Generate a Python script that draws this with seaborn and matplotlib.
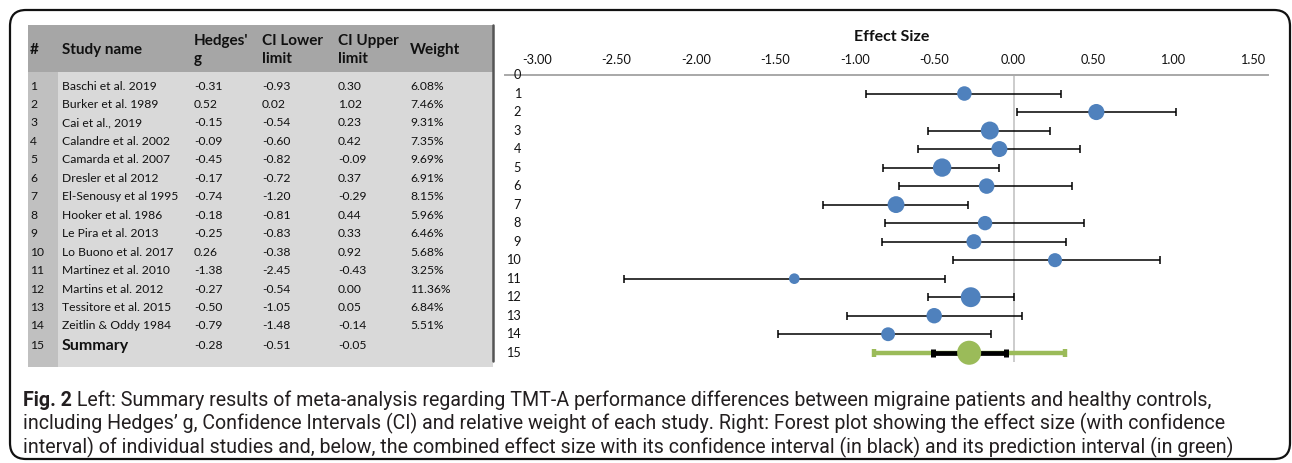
import matplotlib
matplotlib.use("Agg")
import matplotlib.pyplot as plt
import seaborn as sns
import pandas as pd
from matplotlib.patches import Rectangle, FancyBboxPatch
from matplotlib.transforms import blended_transform_factory
from matplotlib import font_manager

# ---- meta-analysis results -------------------------------------------------
study_ids = list(range(1, 15))
study_names = [
    "Baschi et al. 2019", "Burker et al. 1989", "Cai et al., 2019",
    "Calandre et al. 2002", "Camarda et al. 2007", "Dresler et al 2012",
    "El-Senousy et al 1995", "Hooker et al. 1986", "Le Pira et al. 2013",
    "Lo Buono et al. 2017", "Martinez et al. 2010", "Martins et al. 2012",
    "Tessitore et al. 2015", "Zeitlin & Oddy 1984",
]
hedges_g = [-0.31, 0.52, -0.15, -0.09, -0.45, -0.17, -0.74, -0.18, -0.25,
            0.26, -1.38, -0.27, -0.50, -0.79]
ci_lower = [-0.93, 0.02, -0.54, -0.60, -0.82, -0.72, -1.20, -0.81, -0.83,
            -0.38, -2.45, -0.54, -1.05, -1.48]
ci_upper = [0.30, 1.02, 0.23, 0.42, -0.09, 0.37, -0.29, 0.44, 0.33,
            0.92, -0.43, 0.00, 0.05, -0.14]
weights = [6.08, 7.46, 9.31, 7.35, 9.69, 6.91, 8.15, 5.96, 6.46,
           5.68, 3.25, 11.36, 6.84, 5.51]

summary_id = 15
summary_label = "Summary"
summary_g, summary_lower, summary_upper = -0.28, -0.51, -0.05
pred_lower, pred_upper = -0.88, 0.32

x_ticks = [-3.00, -2.50, -2.00, -1.50, -1.00, -0.50, 0.00, 0.50, 1.00, 1.50]
y_rows = list(range(0, 16))

header_labels = ["#", "Study name", "Hedges'\ng", "CI Lower\nlimit",
                 "CI Upper\nlimit", "Weight"]
axis_title = "Effect Size"
caption_bold = "Fig. 2"
caption_lines = [
    " Left: Summary results of meta-analysis regarding TMT-A performance "
    "differences between migraine patients and healthy controls,",
    "including Hedges\u2019 g, Confidence Intervals (CI) and relative weight "
    "of each study. Right: Forest plot showing the effect size (with confidence",
    "interval) of individual studies and, below, the combined effect size with "
    "its confidence interval (in black) and its prediction interval (in green)",
]

studies = pd.DataFrame({
    "row": study_ids, "g": hedges_g, "lo": ci_lower, "hi": ci_upper,
    "w": weights,
})

# ---- figure ----------------------------------------------------------------
W, H = 1292, 463
sns.set_theme(style="white")
plt.rcParams["font.family"] = ["Lato", "DejaVu Sans"]
fig = plt.figure(figsize=(W / 100, H / 100), dpi=100)
fig.patch.set_facecolor("white")

# pixel-space canvas for the table, frame and caption
cv = fig.add_axes([0, 0, 1, 1], zorder=0)
cv.set_xlim(0, W)
cv.set_ylim(H, 0)
cv.axis("off")

# rounded frame
cv.add_patch(FancyBboxPatch((10, 10), 1280, 449,
                            boxstyle="round,pad=0,rounding_size=16",
                            fill=False, edgecolor="#111111", lw=1.6))

# table background
tab_l, tab_r, tab_t, tab_hb, tab_b = 28, 493, 25, 72, 367
cv.add_patch(Rectangle((tab_l, tab_hb), tab_r - tab_l, tab_b - tab_hb,
                       facecolor="#d9d9d9", edgecolor="none"))
cv.add_patch(Rectangle((tab_l, tab_hb), 30, tab_b - tab_hb,
                       facecolor="#c0c0c0", edgecolor="none"))
cv.add_patch(Rectangle((tab_l, tab_t), tab_r - tab_l, tab_hb - tab_t,
                       facecolor="#a6a6a6", edgecolor="none"))
cv.plot([tab_r, tab_r], [tab_t, tab_b - 6], color="#555555", lw=1.8)

col_x = [30, 62, 194, 262, 338, 410]
for x, lab in zip(col_x, header_labels):
    cv.text(x, 50, lab, ha="left", va="center", fontsize=11,
            fontweight="bold", color="#111111", linespacing=1.4)

row_y0, row_dy = 86, 18.46
body_fs = 8.7
for i, r in enumerate(study_ids):
    y = row_y0 + row_dy * (r - 1)
    vals = [str(r), study_names[i], f"{hedges_g[i]:.2f}", f"{ci_lower[i]:.2f}",
            f"{ci_upper[i]:.2f}", f"{weights[i]:.2f}%"]
    for x, v in zip(col_x, vals):
        cv.text(x, y, v, ha="left", va="center", fontsize=body_fs,
                color="#111111")

ys = row_y0 + row_dy * (summary_id - 1) + 1.5
cv.text(col_x[0], ys, str(summary_id), ha="left", va="center",
        fontsize=body_fs, color="#111111")
cv.text(col_x[1], ys, summary_label, ha="left", va="center", fontsize=11.5,
        fontweight="bold", color="#111111")
for x, v in zip(col_x[2:5], [summary_g, summary_lower, summary_upper]):
    cv.text(x, ys, f"{v:.2f}", ha="left", va="center", fontsize=body_fs,
            color="#111111")

# ---- forest plot -----------------------------------------------------------
fp_l, fp_r, fp_t, fp_b = 505, 1268, 75, 362
ax = fig.add_axes([fp_l / W, 1 - fp_b / H, (fp_r - fp_l) / W, (fp_b - fp_t) / H],
                  zorder=2)
ax.set_facecolor("none")
ax.set_xlim(-3.2, 1.6)
ax.set_ylim(15.5, 0)

ax.axvline(0, color="#c4c4c4", lw=1.2, zorder=1)

ax.errorbar(studies["g"], studies["row"],
            xerr=[studies["g"] - studies["lo"], studies["hi"] - studies["g"]],
            fmt="none", ecolor="black", elinewidth=1.1, capsize=2.6,
            capthick=1.1, zorder=2)
sns.scatterplot(data=studies, x="g", y="row", size="w", sizes=(0, 205),
                size_norm=(0, 11.36), color="#4f81bd", edgecolor="none",
                legend=False, ax=ax, zorder=3)

ax.errorbar([summary_g], [summary_id],
            xerr=[[summary_g - pred_lower], [pred_upper - summary_g]],
            fmt="none", ecolor="#9bbb59", elinewidth=3.2, capsize=2.6,
            capthick=3.2, zorder=2)
ax.errorbar([summary_g], [summary_id],
            xerr=[[summary_g - summary_lower], [summary_upper - summary_g]],
            fmt="none", ecolor="black", elinewidth=3.4, capsize=3.2,
            capthick=3.6, zorder=3)
sns.scatterplot(x=[summary_g], y=[summary_id], s=300, color="#9bbb59",
                edgecolor="none", legend=False, ax=ax, zorder=4, clip_on=False)

for side in ["left", "right", "bottom"]:
    ax.spines[side].set_visible(False)
ax.spines["top"].set_color("#a8a8a8")
ax.spines["top"].set_linewidth(1.4)
ax.xaxis.tick_top()
ax.set_xticks(x_ticks)
ax.set_xticklabels([f"{t:.2f}" for t in x_ticks])
ax.tick_params(axis="x", length=0, pad=6.5, labelsize=9.2, labelcolor="#111111")
ax.set_yticks([])
ax.set_xlabel("")
ax.set_ylabel("")
ax.grid(False)

lab_tr = blended_transform_factory(cv.transData, ax.transData)
for r in y_rows:
    ax.text(521, r, str(r), transform=lab_tr, ha="right", va="center",
            fontsize=9.2, color="#111111")

cv.text(892, 37, axis_title, ha="center", va="center", fontsize=11.5,
        fontweight="bold", color="#111111")

# ---- caption ---------------------------------------------------------------
installed = {f.name for f in font_manager.fontManager.ttflist}
cap_family = [f for f in ["Roboto"] if f in installed]
cap_family.append("DejaVu Sans")
renderer = fig.canvas.get_renderer()
probe = cv.text(0, 0, caption_lines[2], fontsize=12, family=cap_family)
w_px = probe.get_window_extent(renderer).width
probe.remove()
cap_fs = 12 * (1209 / w_px)

cap_x, cap_y = 23, [400, 423.5, 447]
bold_t = cv.text(cap_x, cap_y[0], caption_bold, ha="left", va="center",
                 fontsize=cap_fs, fontweight="bold", family=cap_family,
                 color="#231f20")
bw = bold_t.get_window_extent(renderer).width
cv.text(cap_x + bw, cap_y[0], caption_lines[0], ha="left", va="center",
        fontsize=cap_fs, family=cap_family, color="#231f20")
for line, y in zip(caption_lines[1:], cap_y[1:]):
    cv.text(cap_x, y, line, ha="left", va="center", fontsize=cap_fs,
            family=cap_family, color="#231f20")

fig.savefig("out.png", dpi=100, facecolor="white")
